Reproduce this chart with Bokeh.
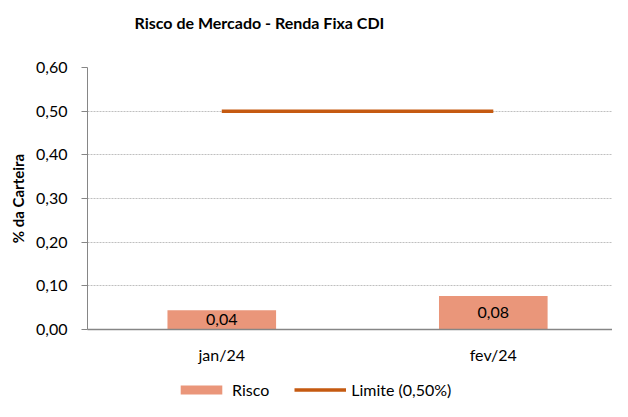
from bokeh.plotting import figure
from bokeh.layouts import column
from bokeh.models import (Range1d, FixedTicker, CustomJSTickFormatter,
                          Legend, LegendItem, Title, ColumnDataSource)
from bokeh.core.properties import value
from bokeh.embed import file_html
from bokeh.resources import INLINE

# ---- data ----
months = ["jan/24", "fev/24"]
risco = [0.044, 0.077]
risco_labels = ["0,04", "0,08"]
limite = [0.50, 0.50]
y_ticks = [0.0, 0.1, 0.2, 0.3, 0.4, 0.5, 0.6]

FONT = "Lato"
BAR = "#EA967A"
LINE = "#C55A11"
AXIS = "#868686"

x_pos = [i + 0.5 for i in range(len(months))]

p = figure(width=612, height=366, output_backend="svg", toolbar_location=None,
           x_range=Range1d(0.0055, 1.939),
           y_range=Range1d(0, 0.6),
           min_border_left=87, min_border_right=0, min_border_top=67,
           min_border_bottom=37)
p.outline_line_color = None
p.background_fill_color = "white"
p.border_fill_color = "white"

src = ColumnDataSource(dict(x=x_pos, top=risco, mid=[v / 2 for v in risco],
                            lab=risco_labels, lim=limite))

bars = p.vbar(x="x", top="top", width=0.40, source=src, fill_color=BAR, line_color=None)
line = p.line(x="x", y="lim", source=src, line_color=LINE, line_width=3.5)
p.text(x="x", y="mid", text="lab", source=src, text_align="center",
       text_baseline="middle", text_font=value(FONT), text_font_size="16px",
       text_color="black")

# axes
p.yaxis.ticker = FixedTicker(ticks=y_ticks)
p.yaxis.formatter = CustomJSTickFormatter(code="return tick.toFixed(2).replace('.', ',');")
p.yaxis.axis_line_color = AXIS
p.yaxis.major_tick_line_color = AXIS
p.yaxis.major_tick_out = 6
p.yaxis.major_tick_in = 0
p.yaxis.minor_tick_line_color = None
p.yaxis.major_label_standoff = 14
p.yaxis.major_label_text_font = FONT
p.yaxis.major_label_text_font_size = "16px"
p.yaxis.major_label_text_color = "black"
p.yaxis.axis_label = "% da Carteira"
p.yaxis.axis_label_text_font = FONT
p.yaxis.axis_label_text_font_size = "15px"
p.yaxis.axis_label_text_font_style = "bold"
p.yaxis.axis_label_text_color = "black"
p.yaxis.axis_label_standoff = 6

p.xaxis.ticker = FixedTicker(ticks=x_pos)
p.xaxis.major_label_overrides = {x: m for x, m in zip(x_pos, months)}
p.xaxis.axis_line_color = AXIS
p.xaxis.axis_line_width = 1.5
p.xaxis.major_tick_line_color = None
p.xaxis.minor_tick_line_color = None
p.xaxis.major_label_text_font = FONT
p.xaxis.major_label_text_font_size = "16px"
p.xaxis.major_label_text_color = "black"
p.xaxis.major_label_standoff = 9

p.xgrid.grid_line_color = None
p.ygrid.grid_line_color = "#BFBFBF"
p.ygrid.grid_line_dash = "2 1"
p.ygrid.grid_line_width = 1

# title (spacer first, nearest the frame, pushes the title up)
spacer = Title(text=" ", text_font=FONT, text_font_size="16px")
p.add_layout(spacer, "above")
t = Title(text="Risco de Mercado - Renda Fixa CDI", align="left", offset=47,
          text_font=FONT, text_font_size="16px", text_font_style="bold",
          text_color="black")
p.add_layout(t, "above")

# legend strip below the chart: same data, drawn out of view, only to feed the legend
lg = figure(width=612, height=34, output_backend="svg", toolbar_location=None,
            x_range=Range1d(10, 11), y_range=Range1d(10, 11),
            min_border_left=0, min_border_right=0, min_border_top=0,
            min_border_bottom=0, x_axis_type=None, y_axis_type=None)
lg.outline_line_color = None
lg.xgrid.grid_line_color = None
lg.ygrid.grid_line_color = None
lg_bar = lg.vbar(x="x", top="top", width=0.40, source=src, fill_color=BAR, line_color=None)
lg_line = lg.line(x="x", y="lim", source=src, line_color=LINE, line_width=3.5)
legend = Legend(items=[LegendItem(label="Risco", renderers=[lg_bar]),
                       LegendItem(label="Limite (0,50%)", renderers=[lg_line])],
                orientation="horizontal", location=(88, 1),
                label_text_font=FONT, label_text_font_size="16px",
                label_text_color="black", border_line_color=None,
                background_fill_alpha=0, glyph_width=52, glyph_height=11,
                spacing=25, padding=0, margin=0, label_standoff=5)
lg.add_layout(legend, "center")

layout = column(p, lg, spacing=0)
open("out.html", "w").write(file_html(layout, INLINE))
